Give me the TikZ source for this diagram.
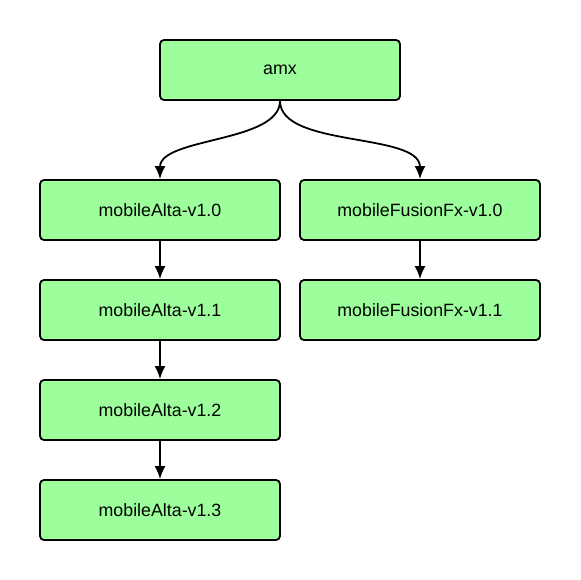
\documentclass[tikz,border=0pt]{standalone}
\usepackage{fontspec}
\setmainfont{Liberation Sans}
\usetikzlibrary{arrows.meta}

\begin{document}
\begin{tikzpicture}[x=1pt,y=-1pt]
\tikzstyle{version}=[rectangle,draw=black,line width=1.8pt,rounded corners=4pt,fill=green!40!white,minimum width=240pt,minimum height=60pt,inner sep=0pt,font=\fontsize{17.8}{20}\selectfont]
\tikzstyle{link}=[line width=1.8pt,-{Latex[length=13pt,width=11pt]}]
\definecolor{vgreen}{HTML}{9CFF9C}
\useasboundingbox (0,0) rectangle (580,580);
\node [version,fill=vgreen] (amx) at (280,70) {amx};
\node [version,fill=vgreen] (alta0) at (160,210) {mobileAlta-v1.0};
\node [version,fill=vgreen] (alta1) at (160,310) {mobileAlta-v1.1};
\node [version,fill=vgreen] (alta2) at (160,410) {mobileAlta-v1.2};
\node [version,fill=vgreen] (alta3) at (160,510) {mobileAlta-v1.3};
\node [version,fill=vgreen] (fx0) at (420,210) {mobileFusionFx-v1.0};
\node [version,fill=vgreen] (fx1) at (420,310) {mobileFusionFx-v1.1};
\draw [link] (amx.south) to[out=-90,in=90,looseness=0.75] (alta0.north);
\draw [link] (amx.south) to[out=-90,in=90,looseness=0.75] (fx0.north);
\draw [link] (alta0) -- (alta1);
\draw [link] (alta1) -- (alta2);
\draw [link] (alta2) -- (alta3);
\draw [link] (fx0) -- (fx1);
\end{tikzpicture}
\end{document}
